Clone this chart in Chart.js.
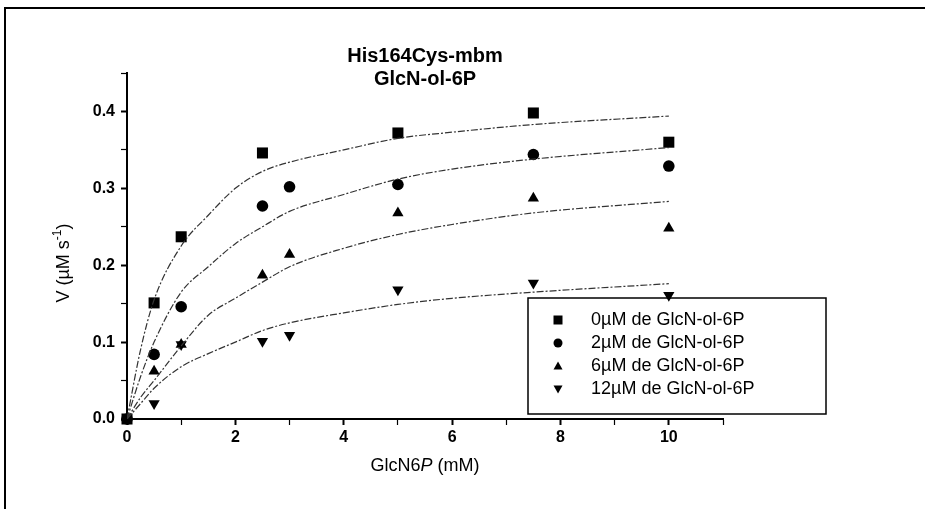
<!DOCTYPE html>
<html>
<head>
<meta charset="utf-8">
<script src="https://cdn.jsdelivr.net/npm/chart.js@4.4.0/dist/chart.umd.min.js"></script>
<style>
html,body{margin:0;padding:0;background:#fff;}
#wrap{position:relative;width:925px;height:509px;overflow:hidden;}
#frame{position:absolute;left:4px;top:7px;width:930px;height:520px;border-top:2px solid #000;border-left:2px solid #000;pointer-events:none;}
canvas{position:absolute;left:0;top:0;}
</style>
</head>
<body>
<div id="wrap"><canvas id="chart" width="925" height="509"></canvas><div id="frame"></div></div>
<script>
// measured points, V in uM/s vs GlcN6P in mM
const sqX = [0, 0.5, 1, 2.5, 5, 7.5, 10];
const sqV = [0, 0.151, 0.237, 0.346, 0.372, 0.398, 0.360];
const ciX = [0, 0.5, 1, 2.5, 3, 5, 7.5, 10];
const ciV = [0, 0.084, 0.146, 0.277, 0.302, 0.305, 0.344, 0.329];
const trX = [0.5, 1, 2.5, 3, 5, 7.5, 10];
const trV = [0.062, 0.097, 0.187, 0.214, 0.268, 0.287, 0.248];
const dnX = [0.5, 1, 2.5, 3, 5, 7.5, 10];
const dnV = [0.020, 0.097, 0.101, 0.109, 0.168, 0.177, 0.161];

// fitted curves
const fitX = [0, 0.25, 0.5, 1, 1.5, 2, 2.5, 3, 4, 5, 6, 7.5, 10];
const fit0 = [0, 0.09, 0.155, 0.225, 0.265, 0.300, 0.322, 0.334, 0.350, 0.365, 0.373, 0.383, 0.394];
const fit2 = [0, 0.055, 0.100, 0.165, 0.198, 0.228, 0.250, 0.270, 0.292, 0.312, 0.325, 0.338, 0.353];
const fit6 = [0, 0.028, 0.050, 0.095, 0.135, 0.157, 0.178, 0.198, 0.222, 0.240, 0.253, 0.268, 0.283];
const fit12 = [0, 0.020, 0.040, 0.068, 0.085, 0.100, 0.115, 0.125, 0.138, 0.149, 0.157, 0.165, 0.176];

const legendLabels = ["0µM de GlcN-ol-6P", "2µM de GlcN-ol-6P", "6µM de GlcN-ol-6P", "12µM de GlcN-ol-6P"];
const titleLines = ["His164Cys-mbm", "GlcN-ol-6P"];
const xTickVals = [0, 1, 2, 3, 4, 5, 6, 7, 8, 9, 10, 11];
const xTickLabels = ["0", "", "2", "", "4", "", "6", "", "8", "", "10", ""];
const yTickVals = [0, 0.05, 0.1, 0.15, 0.2, 0.25, 0.3, 0.35, 0.4, 0.45];
const yTickLabels = ["0.0", "", "0.1", "", "0.2", "", "0.3", "", "0.4", ""];

const FONT = '"Liberation Sans", Arial, sans-serif';
const toPts = (xs, ys) => xs.map((x, i) => ({x: x, y: ys[i]}));

const fitStyle = {showLine: true, pointRadius: 0, borderColor: "#333", borderWidth: 1.2,
  borderDash: [7, 2, 2, 2], cubicInterpolationMode: "monotone", fill: false};
const markStyle = {showLine: false, backgroundColor: "#000", borderColor: "#000", borderWidth: 0, clip: false};

const drawMarker = (c, style, x, y, r) => {
  c.beginPath();
  if (style === "rect") {
    c.rect(x - r, y - r, 2 * r, 2 * r);
  } else if (style === "circle") {
    c.arc(x, y, r, 0, Math.PI * 2);
  } else if (style === "up") {
    c.moveTo(x, y - r); c.lineTo(x + r, y + r * 0.8); c.lineTo(x - r, y + r * 0.8);
  } else {
    c.moveTo(x, y + r); c.lineTo(x + r, y - r * 0.8); c.lineTo(x - r, y - r * 0.8);
  }
  c.closePath();
  c.fill();
};

const textPlugin = {
  id: "texts",
  afterDraw(chart) {
    const c = chart.ctx, a = chart.chartArea;
    c.save();
    c.fillStyle = "#000";
    c.textBaseline = "middle";
    // title
    c.textAlign = "center";
    c.font = "bold 20px " + FONT;
    const cx = (a.left + a.right) / 2;
    c.fillText(titleLines[0], cx, 56);
    c.fillText(titleLines[1], cx, 79);

    // x title with italic P
    c.textAlign = "left";
    const f1 = "18px " + FONT, f2 = "italic 18px " + FONT;
    const parts = [["GlcN6", f1], ["P", f2], [" (mM)", f1]];
    let w = 0;
    parts.forEach(p => { c.font = p[1]; w += c.measureText(p[0]).width; });
    let px = cx - w / 2;
    parts.forEach(p => { c.font = p[1]; c.fillText(p[0], px, 466); px += c.measureText(p[0]).width; });

    // y title
    c.translate(64, 263);
    c.rotate(-Math.PI / 2);
    const yParts = [["V (µM s", "18px " + FONT, 0], ["-1", "12px " + FONT, -6], [")", "18px " + FONT, 0]];
    w = 0;
    yParts.forEach(p => { c.font = p[1]; w += c.measureText(p[0]).width; });
    px = -w / 2;
    yParts.forEach(p => { c.font = p[1]; c.fillText(p[0], px, p[2]); px += c.measureText(p[0]).width; });
    c.restore();

    // legend box
    c.save();
    c.strokeStyle = "#000";
    c.lineWidth = 1.5;
    c.strokeRect(528, 298, 298, 116);
    c.fillStyle = "#000";
    c.font = "18px " + FONT;
    c.textBaseline = "middle";
    c.textAlign = "left";
    const styles = ["rect", "circle", "up", "down"];
    legendLabels.forEach((lab, i) => {
      const y = 320 + i * 23;
      drawMarker(c, styles[i], 558, y, 4.5);
      c.fillText(lab, 591, y);
    });
    c.restore();
  }
};

const ctx = document.querySelector("#chart");
const myChart = new Chart(ctx, {
  type: "scatter",
  data: {
    datasets: [
      {...fitStyle, data: toPts(fitX, fit0)},
      {...fitStyle, data: toPts(fitX, fit2)},
      {...fitStyle, data: toPts(fitX, fit6)},
      {...fitStyle, data: toPts(fitX, fit12)},
      {...markStyle, label: legendLabels[0], data: toPts(sqX, sqV), pointStyle: "rect", pointRadius: 7.8},
      {...markStyle, label: legendLabels[1], data: toPts(ciX, ciV), pointStyle: "circle", pointRadius: 5.8},
      {...markStyle, label: legendLabels[2], data: toPts(trX, trV), pointStyle: "triangle", pointRadius: 6.5},
      {...markStyle, label: legendLabels[3], data: toPts(dnX, dnV), pointStyle: "triangle", rotation: 180, pointRadius: 6.5}
    ]
  },
  options: {
    responsive: false,
    animation: false,
    layout: {padding: {left: 0, top: 73, right: 202, bottom: 0}},
    plugins: {legend: {display: false}, tooltip: {enabled: false}, title: {display: false}},
    scales: {
      x: {
        type: "linear", min: 0, max: 11,
        afterBuildTicks: s => { s.ticks = xTickVals.map(v => ({value: v})); },
        afterFit: s => { s.height = 90; },
        grid: {drawOnChartArea: false, tickLength: 6, tickColor: "#000", tickWidth: c => (c.index % 2 === 0 ? 2 : 1.2)},
        border: {color: "#000", width: 2},
        ticks: {autoSkip: false, maxRotation: 0, padding: 3, color: "#000",
          font: {family: FONT, size: 16, weight: "bold"},
          callback: (v, i) => xTickLabels[i]}
      },
      y: {
        type: "linear", min: 0, max: 0.45,
        afterBuildTicks: s => { s.ticks = yTickVals.map(v => ({value: v})); },
        afterFit: s => { s.width = 127; },
        grid: {drawOnChartArea: false, tickLength: 6, tickColor: "#000", tickWidth: c => (c.index % 2 === 0 ? 2 : 1.2)},
        border: {color: "#000", width: 2},
        ticks: {autoSkip: false, padding: 6, color: "#000",
          font: {family: FONT, size: 16, weight: "bold"},
          callback: (v, i) => yTickLabels[i]}
      }
    }
  },
  plugins: [textPlugin]
});
</script>
</body>
</html>
